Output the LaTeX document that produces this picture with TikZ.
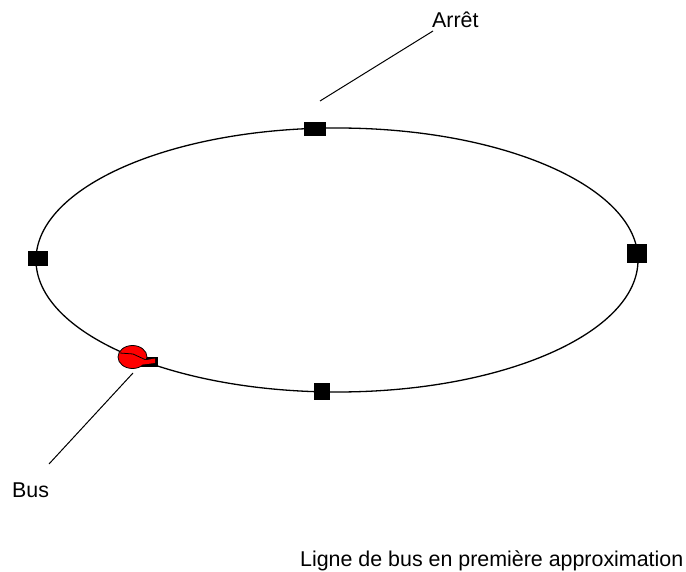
\documentclass[tikz,border=0pt]{standalone}
\usepackage{fontspec}
\setmainfont{Liberation Sans}
\tikzset{
  x=1pt,y=-1pt,
  track/.style={draw=black,line width=1.3pt},
  leader/.style={draw=black,line width=1pt},
  stopbox/.style={fill=black,draw=none,inner sep=0pt,minimum width=#1},
  lbl/.style={inner sep=0pt,font=\fontsize{21.4}{23}\selectfont,text=black},
}
\begin{document}
\begin{tikzpicture}
\useasboundingbox (0,0) rectangle (686,572);
\draw[track] (337,260) ellipse [x radius=301,y radius=132];
\node[stopbox=22pt,minimum height=14pt] (top) at (315,129.5) {};
\node[stopbox=20pt,minimum height=15pt] (left) at (38,258.5) {};
\node[stopbox=20pt,minimum height=19pt] (right) at (637,253.5) {};
\node[stopbox=16pt,minimum height=17pt] (bottom) at (322,391.5) {};
\node[lbl,anchor=base west] (arret) at (432,28) {Arrêt};
\node[lbl,anchor=base west] (buslabel) at (12,497) {Bus};
\node[lbl,anchor=base west] (caption) at (300,566) {Ligne de bus en première approximation};
\coordinate (a1) at (320,101);
\coordinate (a2) at (433,31);
\draw[leader] (a1) -- (a2);
\coordinate (b1) at (49,464);
\coordinate (b2) at (133,373);
\draw[leader] (b1) -- (b2);
\draw[fill=black,draw=black,line width=.8pt] (141,357) rectangle (157,366.5);
\draw[fill=red,draw=black,line width=.8pt] (132.5,357) ellipse [x radius=14.5,y radius=11.5];
\draw[black,line width=.8pt] (120,353) -- (133,354) -- (146,360);
\draw[fill=red,draw=none] (141,361) -- (155,358.5) -- (155,363) -- (143,364.5) -- cycle;
\end{tikzpicture}
\end{document}
